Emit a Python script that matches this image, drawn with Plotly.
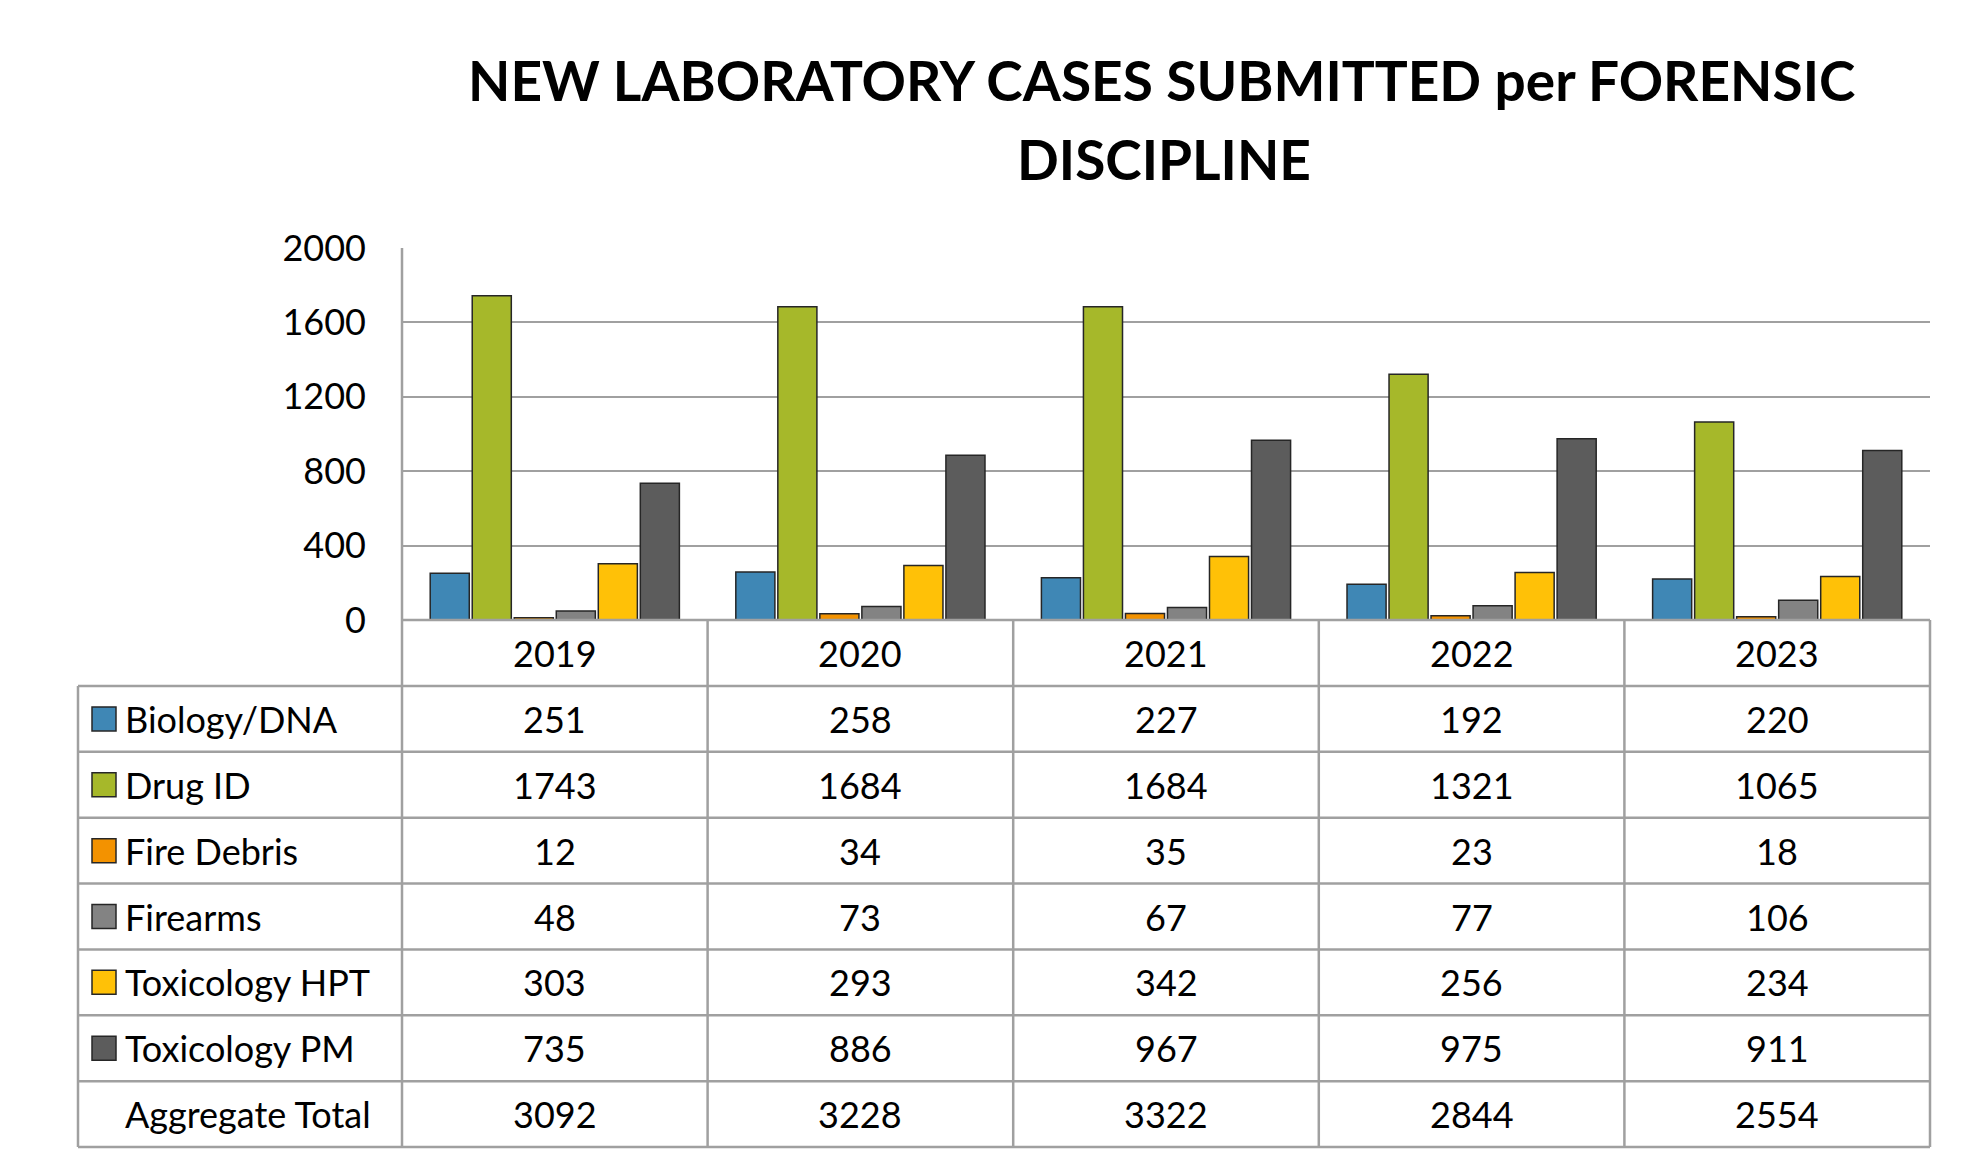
import plotly.graph_objects as go

W, H = 1980, 1170

years = ["2019", "2020", "2021", "2022", "2023"]
disciplines = ["Biology/DNA", "Drug ID", "Fire Debris", "Firearms",
               "Toxicology HPT", "Toxicology PM"]
biology = [251, 258, 227, 192, 220]
drug_id = [1743, 1684, 1684, 1321, 1065]
fire_debris = [12, 34, 35, 23, 18]
firearms = [48, 73, 67, 77, 106]
tox_hpt = [303, 293, 342, 256, 234]
tox_pm = [735, 886, 967, 975, 911]
totals = [3092, 3228, 3322, 2844, 2554]
y_ticks = [0, 400, 800, 1200, 1600, 2000]

series = [biology, drug_id, fire_debris, firearms, tox_hpt, tox_pm]
colors = ["#3F87B5", "#A6B82A", "#F39200", "#838383", "#FFC107", "#5C5C5C"]

FONT = "Lato"
TXT = 36
GRID = "#A0A0A0"

# pixel layout (page has an 8px body margin, so everything is nudged up/left)
OFF = 8
plot_l, plot_r = 402, 1930
plot_t, plot_b = 248, 620
tab_l, tab_b = 78, 1147
head_b = 686
row_h = (tab_b - head_b) / 7


def px(x):
    return (x - OFF) / W


def py(y):
    return 1 - (y - OFF) / H


fig = go.Figure()
for name, vals, col in zip(disciplines, series, colors):
    fig.add_trace(go.Bar(
        x=years, y=vals, name=name,
        marker=dict(color=col, line=dict(color="#262626", width=1.5)),
    ))

shapes = []
line = dict(color=GRID, width=2.5)


def hline(y, x0, x1):
    shapes.append(dict(type="line", xref="paper", yref="paper",
                       x0=px(x0), x1=px(x1), y0=py(y), y1=py(y), line=line))


def vline(x, y0, y1):
    shapes.append(dict(type="line", xref="paper", yref="paper",
                       x0=px(x), x1=px(x), y0=py(y0), y1=py(y1), line=line))


hline(plot_b, plot_l, plot_r)
for i in range(8):
    hline(head_b + i * row_h, tab_l, plot_r)
vline(tab_l, head_b, tab_b)
vline(plot_l, plot_t, tab_b)
col_w = (plot_r - plot_l) / len(years)
for k in range(1, len(years) + 1):
    vline(plot_l + k * col_w, plot_b, tab_b)

annotations = []
# title
annotations.append(dict(text="<b>NEW LABORATORY CASES SUBMITTED per FORENSIC</b>",
                        x=px(1161), y=py(80), xref="paper", yref="paper",
                        showarrow=False, xanchor="center", yanchor="middle",
                        font=dict(family=FONT, size=55, color="black")))
annotations.append(dict(text="<b>DISCIPLINE</b>",
                        x=px(1164), y=py(159), xref="paper", yref="paper",
                        showarrow=False, xanchor="center", yanchor="middle",
                        font=dict(family=FONT, size=55, color="black")))

# year header row
for i, yr in enumerate(years):
    annotations.append(dict(text=yr, x=i, xref="x", y=py((plot_b + head_b) / 2),
                            yref="paper", showarrow=False, yanchor="middle",
                            font=dict(family=FONT, size=TXT, color="black")))

rows = list(zip(disciplines, series, colors)) + [("Aggregate Total", totals, None)]
for r, (name, vals, col) in enumerate(rows):
    cy = head_b + (r + 0.5) * row_h
    if col is not None:
        shapes.append(dict(type="rect", xref="paper", yref="paper",
                           x0=px(92), x1=px(116), y0=py(cy - 12), y1=py(cy + 12),
                           fillcolor=col, line=dict(color="#262626", width=1.5)))
    annotations.append(dict(text=name, x=px(123), y=py(cy), xref="paper", yref="paper",
                            showarrow=False, xanchor="left", yanchor="middle",
                            font=dict(family=FONT, size=TXT, color="black")))
    for i, v in enumerate(vals):
        annotations.append(dict(text=str(v), x=i, xref="x", y=py(cy), yref="paper",
                                showarrow=False, yanchor="middle",
                                font=dict(family=FONT, size=TXT, color="black")))

fig.update_layout(
    width=W, height=H,
    margin=dict(l=0, r=0, t=0, b=0, autoexpand=False),
    paper_bgcolor="white", plot_bgcolor="white",
    showlegend=False,
    barmode="group", bargap=0.175, bargroupgap=0.07,
    xaxis=dict(domain=[px(plot_l), px(plot_r)], type="category",
               range=[-0.5, len(years) - 0.5], automargin=False,
               showticklabels=False, showgrid=False, zeroline=False, showline=False,
               fixedrange=True),
    yaxis=dict(domain=[py(plot_b), py(plot_t)], range=[0, 2000], automargin=False,
               tickvals=y_ticks, showgrid=True, gridcolor=GRID, gridwidth=2,
               zeroline=False, showline=False, ticks="",
               ticklabelstandoff=35,
               tickfont=dict(family=FONT, size=TXT, color="black")),
    shapes=shapes,
    annotations=annotations,
)

fig.write_html("out.html")
